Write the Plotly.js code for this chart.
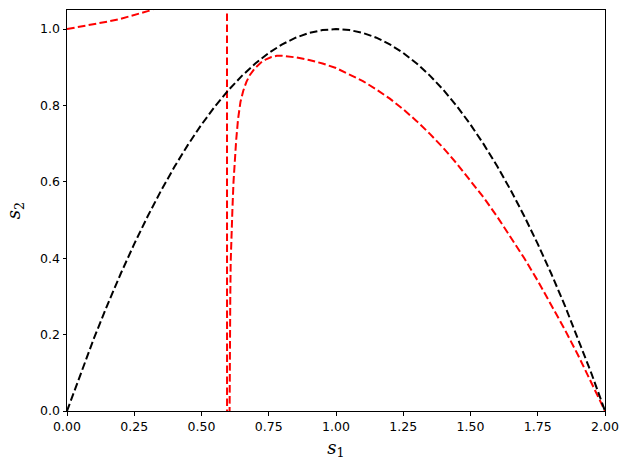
<!DOCTYPE html>
<html>
<head>
<meta charset="utf-8">
<script src="https://cdn.plot.ly/plotly-3.0.1.min.js"></script>
<style>html,body{margin:0;padding:0;background:#fff;}#chart{width:630px;height:470px;}</style>
</head>
<body>
<div id="chart"></div>
<script>
// Black dashed curve
const blackS1 = [0,0.05,0.1,0.15,0.2,0.25,0.3,0.35,0.4,0.45,0.5,0.55,0.6,0.65,0.7,0.75,0.8,0.85,0.9,0.95,1.0,
  1.05,1.1,1.15,1.2,1.25,1.3,1.35,1.4,1.45,1.5,1.55,1.6,1.65,1.7,1.75,1.8,1.85,1.9,1.95,2.0];
const blackS2 = [0,0.0975,0.19,0.2775,0.36,0.4375,0.51,0.5775,0.64,0.6975,0.75,0.7975,0.84,0.8775,0.91,0.9375,0.96,0.9775,0.99,0.9975,1.0,
  0.9975,0.99,0.9775,0.96,0.9375,0.91,0.8775,0.84,0.7975,0.75,0.6975,0.64,0.5775,0.51,0.4375,0.36,0.2775,0.19,0.0975,0];

// Red dashed curve (pole near s1 = 0.595)
const redS1 = [0,0.05,0.1,0.15,0.2,0.25,0.3,0.35,0.4,0.5,0.56,0.594,
  0.596,0.601,0.603,0.605,0.607,0.6085,0.611,0.615,0.619,0.623,0.629,0.636,0.645,0.655,0.667,0.68,0.698,0.72,0.74,0.76,0.78,0.80,
  0.85,0.90,0.95,1.0,1.05,1.1,1.15,1.2,1.25,1.3,1.35,1.4,1.45,1.5,1.55,1.6,1.65,1.7,1.75,1.8,1.85,1.9,1.95,2.0];
const redS2 = [1.0,1.006,1.0125,1.0195,1.027,1.036,1.047,1.06,1.08,1.15,1.3,5,
  -5,-0.4,0.0,0.17,0.30,0.39,0.46,0.53,0.60,0.65,0.71,0.765,0.81,0.838,0.862,0.880,0.897,0.912,0.921,0.927,0.930,0.930,
  0.926,0.919,0.910,0.898,0.882,0.864,0.842,0.818,0.790,0.759,0.725,0.688,0.647,0.604,0.558,0.508,0.455,0.400,0.341,0.279,0.214,0.146,0.074,0.0];

const xTicks = [0,0.25,0.5,0.75,1.0,1.25,1.5,1.75,2.0];
const yTicks = [0,0.2,0.4,0.6,0.8,1.0];

const dash = '7.7px,3.3px';
const traces = [
  {x: redS1, y: redS2, mode: 'lines', line: {color: '#ff0000', width: 2, dash: dash}, hoverinfo: 'skip'},
  {x: blackS1, y: blackS2, mode: 'lines', line: {color: '#000000', width: 2, dash: dash}, hoverinfo: 'skip'}
];

const axisCommon = {
  showgrid: false, zeroline: false, showline: true, mirror: true,
  linecolor: '#000', linewidth: 1, ticks: 'outside', ticklen: 3.5, tickwidth: 1, tickcolor: '#000',
  tickfont: {family: 'DejaVu Sans', size: 12.5, color: '#000'}
};

const layout = {
  width: 630, height: 470,
  margin: {l: 67, r: 25, t: 10, b: 59},
  paper_bgcolor: '#fff', plot_bgcolor: '#fff',
  showlegend: false,
  xaxis: Object.assign({}, axisCommon, {
    range: [0, 2], tickvals: xTicks, tickformat: '.2f',
    title: {text: '<i>s</i><sub>1</sub>', font: {family: 'DejaVu Serif', size: 18, color: '#000'}, standoff: 8}
  }),
  yaxis: Object.assign({}, axisCommon, {
    range: [0, 1.05], tickvals: yTicks, tickformat: '.1f',
    title: {text: '<i>s</i><sub>2</sub>', font: {family: 'DejaVu Serif', size: 18, color: '#000'}, standoff: 14}
  })
};

Plotly.newPlot('chart', traces, layout, {staticPlot: true, displayModeBar: false});
</script>
</body>
</html>
